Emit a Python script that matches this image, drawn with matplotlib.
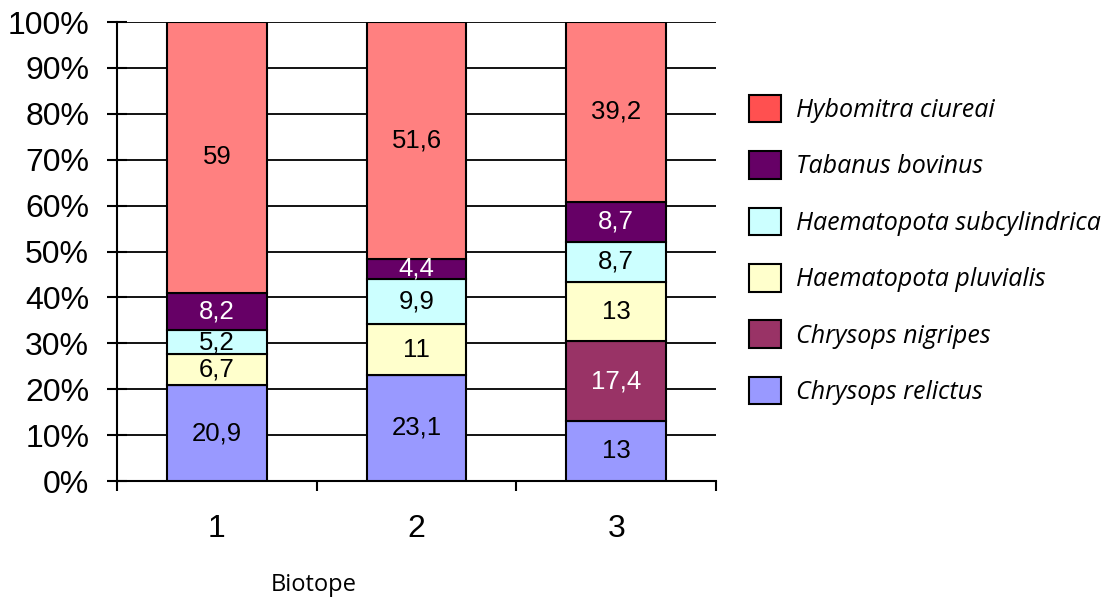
import numpy as np
import matplotlib.pyplot as plt
from matplotlib.patches import Patch

# -------------------- Data --------------------
biotopes = ['1', '2', '3']
species = ['Chrysops relictus', 'Chrysops nigripes', 'Haematopota pluvialis',
           'Haematopota subcylindrica', 'Tabanus bovinus', 'Hybomitra ciureai']

relictus = [20.9, 23.1, 13]
nigripes = [0, 0, 17.4]
pluvialis = [6.7, 11, 13]
subcyl = [5.2, 9.9, 8.7]
bovinus = [8.2, 4.4, 8.7]
ciureai = [59, 51.6, 39.2]

series = [relictus, nigripes, pluvialis, subcyl, bovinus, ciureai]

bar_colors = ['#9999FF', '#993366', '#FFFFCC', '#CCFFFF', '#660066', '#FF8080']
legend_colors = ['#9999FF', '#993366', '#FFFFCC', '#CCFFFF', '#660066', '#FF5050']
text_colors = ['black', 'white', 'black', 'black', 'white', 'black']

# -------------------- Plot --------------------
fig = plt.figure(figsize=(11.04, 5.97), dpi=100)
ax = fig.add_axes([0.106, 0.1943, 0.5426, 0.7688])

x = np.arange(1, len(biotopes) + 1)
bottom = np.zeros(len(biotopes))
for vals, col, tcol in zip(series, bar_colors, text_colors):
    vals = np.array(vals, dtype=float)
    ax.bar(x, vals, 0.5, bottom=bottom, color=col, edgecolor='black',
           linewidth=1.5, zorder=3)
    for xi, b, v in zip(x, bottom, vals):
        if v > 0:
            ax.text(xi, b + v / 2, f'{v:g}'.replace('.', ','), ha='center',
                    va='center', fontsize=18.5, color=tcol,
                    family='Liberation Sans', zorder=4)
    bottom += vals

# gridlines
for yv in range(10, 101, 10):
    ax.axhline(yv, color='black', linewidth=1.3, zorder=1)

ax.set_xlim(0.5, 3.5)
ax.set_ylim(0, 100)
ax.spines['top'].set_visible(False)
ax.spines['right'].set_visible(False)
for s in ['left', 'bottom']:
    ax.spines[s].set_linewidth(1.5)

ax.set_yticks(range(0, 101, 10))
ax.set_yticklabels([f'{v}%' for v in range(0, 101, 10)],
                   fontsize=23, family='Liberation Sans')
ax.tick_params(axis='y', direction='inout', length=14, width=1.5, pad=13)

ax.set_xticks([0.5, 1.5, 2.5, 3.5])
ax.set_xticklabels([])
ax.tick_params(axis='x', which='major', direction='out', length=7, width=1.5)
ax.set_xticks(x, minor=True)
ax.set_xticklabels(biotopes, minor=True, fontsize=23, family='Liberation Sans')
ax.tick_params(axis='x', which='minor', length=0, pad=24)

fig.text(0.284, 0.0, 'Biotope', fontsize=17, family='Open Sans',
         ha='center', va='bottom')

handles = [Patch(facecolor=c, edgecolor='black', linewidth=1.5)
           for c in legend_colors[::-1]]
fig.legend(handles, species[::-1], loc='upper left',
           bbox_to_anchor=(0.669, 0.858), frameon=False,
           prop={'family': 'Open Sans', 'style': 'italic', 'size': 18},
           handlelength=1.28, handleheight=1.32, labelspacing=1.13,
           handletextpad=0.62, borderaxespad=0)

fig.savefig('out.png', dpi=100)
